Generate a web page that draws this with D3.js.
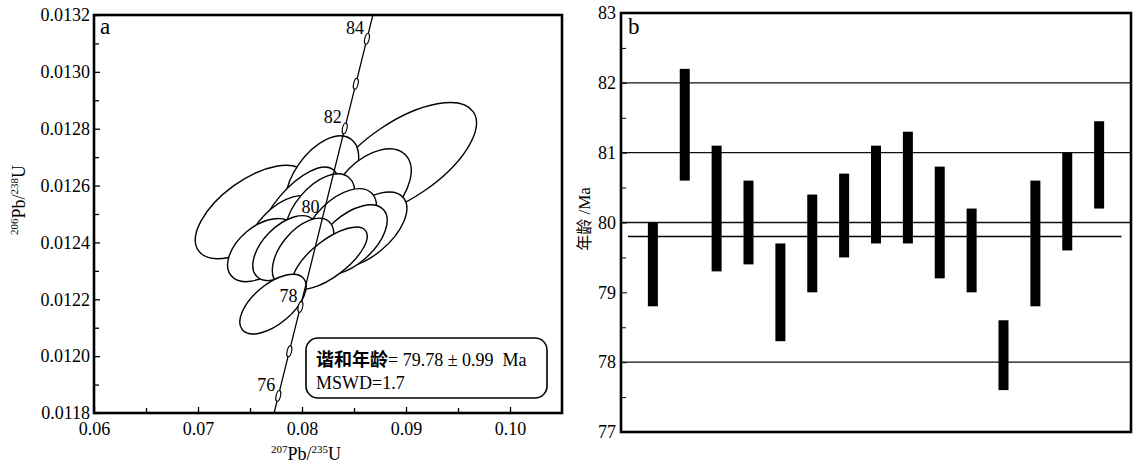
<!DOCTYPE html>
<html>
<head>
<meta charset="utf-8">
<script src="https://cdn.jsdelivr.net/npm/d3@7"></script>
<style>
body { margin: 0; background: #fff; }
svg text { font-family: "Liberation Serif", "Times New Roman", serif; fill: #000; }
svg .cjk { font-family: "Noto Sans CJK SC", sans-serif; }
</style>
</head>
<body>
<svg width="1143" height="464"></svg>
<script>
// Panel a: concordia curve (age in Ma, 207Pb/235U, 206Pb/238U)
var concAge = [75, 76, 77, 78, 79, 80, 81, 82, 83, 84, 85];
var concX = [0.076660, 0.077720, 0.078782, 0.079845, 0.080910, 0.081975, 0.083041, 0.084109, 0.085177, 0.086245, 0.087316];
var concY = [0.011702, 0.011860, 0.012017, 0.012173, 0.012330, 0.012487, 0.012644, 0.012801, 0.012958, 0.013116, 0.013273];
var markerAges = [76, 77, 78, 82, 83, 84];
var labelAges = [76, 78, 80, 82, 84];

// Panel a: zircon spot error ellipses (centre, 2 sigma half extent, correlation)
var spotX   = [0.08962, 0.07519, 0.08192, 0.08654, 0.08606, 0.07962, 0.07817, 0.07615, 0.08173, 0.08365, 0.07837, 0.08462, 0.08010, 0.08269, 0.07721];
var spotY   = [0.012690, 0.012507, 0.012620, 0.012584, 0.012444, 0.012507, 0.012437, 0.012373, 0.012507, 0.012461, 0.012380, 0.012409, 0.012366, 0.012345, 0.012183];
var spotSx  = [0.00715, 0.00544, 0.00353, 0.00396, 0.00402, 0.00383, 0.00350, 0.00330, 0.00334, 0.00350, 0.00310, 0.00357, 0.00295, 0.00358, 0.00319];
var spotSy  = [0.000202, 0.000164, 0.000155, 0.000145, 0.000133, 0.000158, 0.000128, 0.000111, 0.000134, 0.000128, 0.000114, 0.000123, 0.000119, 0.000109, 0.000105];
var spotRho = [0.645, 0.60, 0.50, 0.47, 0.57, 0.675, 0.53, 0.47, 0.52, 0.53, 0.535, 0.555, 0.53, 0.71, 0.60];

var xTicksA = [0.06, 0.07, 0.08, 0.09, 0.10];
var xMinorA = [0.065, 0.075, 0.085, 0.095];
var yTicksA = [0.0118, 0.0120, 0.0122, 0.0124, 0.0126, 0.0128, 0.0130, 0.0132];
var yMinorA = [0.0119, 0.0121, 0.0123, 0.0125, 0.0127, 0.0129, 0.0131];

// Panel b: individual ages (error bars) and weighted mean
var barLow  = [78.8, 80.6, 79.3, 79.4, 78.3, 79.0, 79.5, 79.7, 79.7, 79.2, 79.0, 77.6, 78.8, 79.6, 80.2];
var barHigh = [80.0, 82.2, 81.1, 80.6, 79.7, 80.4, 80.7, 81.1, 81.3, 80.8, 80.2, 78.6, 80.6, 81.0, 81.45];
var gridB = [82, 81, 80, 78];
var meanAge = 79.8;
var meanSpan = [0.22, 15.7];
var yTicksB = [77, 78, 79, 80, 81, 82, 83];
var yMinorB = [77.5, 78.5, 79.5, 80.5, 81.5, 82.5];

var svg = d3.select('svg');

// ---------- Panel a ----------
var ax = {left: 94, right: 562, top: 15, bottom: 413};
var xa = d3.scaleLinear().domain([0.06, 0.105]).range([ax.left, ax.right]);
var ya = d3.scaleLinear().domain([0.0118, 0.0132]).range([ax.bottom, ax.top]);

svg.append('clipPath').attr('id', 'clipA')
	.append('rect')
	.attr('x', ax.left).attr('y', ax.top)
	.attr('width', ax.right - ax.left).attr('height', ax.bottom - ax.top);

var plotA = svg.append('g').attr('clip-path', 'url(#clipA)');

function ellipse_px(i)
{
	var cx = xa(spotX[i]), cy = ya(spotY[i]);
	var a = xa(spotX[i] + spotSx[i]) - cx;
	var b = cy - ya(spotY[i] + spotSy[i]);
	var sxx = a * a, syy = b * b, sxy = -spotRho[i] * a * b;
	var m = (sxx + syy) / 2;
	var d = Math.sqrt(Math.pow((sxx - syy) / 2, 2) + sxy * sxy);
	var ang = 0.5 * Math.atan2(2 * sxy, sxx - syy) * 180 / Math.PI;
	return {cx: cx, cy: cy, rx: Math.sqrt(m + d), ry: Math.sqrt(m - d), ang: ang};
}

plotA.selectAll('.spot')
	.data(d3.range(spotX.length).map(ellipse_px))
	.enter().append('ellipse')
	.attr('class', 'spot')
	.attr('transform', d => 'translate(' + d.cx + ',' + d.cy + ') rotate(' + d.ang + ')')
	.attr('rx', d => d.rx)
	.attr('ry', d => d.ry)
	.attr('fill', '#fff')
	.attr('stroke', '#000')
	.attr('stroke-width', 1.4);

// Concordia
var conc = concAge.map((t, i) => ({age: t, x: concX[i], y: concY[i]}));
plotA.append('path')
	.datum(conc)
	.attr('fill', 'none')
	.attr('stroke', '#000')
	.attr('stroke-width', 1.3)
	.attr('d', d3.line().x(d => xa(d.x)).y(d => ya(d.y)));

var lineAngle = Math.atan2(ya(concY[10]) - ya(concY[0]), xa(concX[10]) - xa(concX[0])) * 180 / Math.PI;

plotA.selectAll('.marker')
	.data(conc.filter(d => markerAges.indexOf(d.age) >= 0))
	.enter().append('ellipse')
	.attr('class', 'marker')
	.attr('transform', d => 'translate(' + xa(d.x) + ',' + ya(d.y) + ') rotate(' + lineAngle + ')')
	.attr('rx', 5.5)
	.attr('ry', 2.2)
	.attr('fill', '#fff')
	.attr('stroke', '#000')
	.attr('stroke-width', 1.1);

plotA.selectAll('.agelabel')
	.data(conc.filter(d => labelAges.indexOf(d.age) >= 0))
	.enter().append('text')
	.attr('class', 'agelabel')
	.attr('x', d => xa(d.x) - 3)
	.attr('y', d => ya(d.y) - 5)
	.attr('text-anchor', 'end')
	.style('font-size', '18px')
	.text(d => d.age);

// Legend box
var legend = svg.append('g');
legend.append('rect')
	.attr('x', 306).attr('y', 338)
	.attr('width', 241).attr('height', 60)
	.attr('rx', 12)
	.attr('fill', '#fff')
	.attr('stroke', '#000')
	.attr('stroke-width', 1.6);
var l1 = legend.append('text').attr('x', 316).attr('y', 366).style('font-size', '18px');
l1.append('tspan').attr('class', 'cjk').style('font-weight', 'bold').style('font-size', '18px').text('谐和年龄');
l1.append('tspan').text('= 79.78 ± 0.99\u00a0\u00a0Ma');
legend.append('text').attr('x', 316).attr('y', 389).style('font-size', '18px').text('MSWD=1.7');

// Axes a
svg.append('g')
	.attr('transform', 'translate(0,' + ax.bottom + ')')
	.call(d3.axisBottom(xa).tickValues(xTicksA).tickFormat(d3.format('.2f')).tickSizeInner(-6).tickSizeOuter(0).tickPadding(9))
	.call(g => g.select('.domain').remove())
	.call(g => g.selectAll('text').style('font-size', '18px').attr('font-family', null));
svg.append('g')
	.attr('transform', 'translate(0,' + ax.bottom + ')')
	.call(d3.axisBottom(xa).tickValues(xMinorA).tickFormat('').tickSizeInner(-5).tickSizeOuter(0))
	.call(g => g.select('.domain').remove());
svg.append('g')
	.attr('transform', 'translate(' + ax.left + ',0)')
	.call(d3.axisLeft(ya).tickValues(yTicksA).tickFormat(d3.format('.4f')).tickSizeInner(-6).tickSizeOuter(0).tickPadding(4))
	.call(g => g.select('.domain').remove())
	.call(g => g.selectAll('text').style('font-size', '18px').attr('font-family', null));
svg.append('g')
	.attr('transform', 'translate(' + ax.left + ',0)')
	.call(d3.axisLeft(ya).tickValues(yMinorA).tickFormat('').tickSizeInner(-5).tickSizeOuter(0))
	.call(g => g.select('.domain').remove());
svg.selectAll('.tick line').attr('stroke-width', 1.3);

svg.append('rect')
	.attr('x', ax.left).attr('y', ax.top)
	.attr('width', ax.right - ax.left).attr('height', ax.bottom - ax.top)
	.attr('fill', 'none').attr('stroke', '#000').attr('stroke-width', 2.6);

svg.append('text').attr('x', ax.left + 6).attr('y', ax.top + 19).style('font-size', '23px').text('a');

var xt = svg.append('text').attr('x', 306).attr('y', 460).attr('text-anchor', 'middle').style('font-size', '18px');
xt.append('tspan').style('font-size', '11px').attr('dy', -7).text('207');
xt.append('tspan').attr('dy', 7).text('Pb/');
xt.append('tspan').style('font-size', '11px').attr('dy', -7).text('235');
xt.append('tspan').attr('dy', 7).text('U');

var yt = svg.append('text').attr('transform', 'translate(25,200) rotate(-90)').attr('text-anchor', 'middle').style('font-size', '18px');
yt.append('tspan').style('font-size', '11px').attr('dy', -7).text('206');
yt.append('tspan').attr('dy', 7).text('Pb/');
yt.append('tspan').style('font-size', '11px').attr('dy', -7).text('238');
yt.append('tspan').attr('dy', 7).text('U');

// ---------- Panel b ----------
var bx = {left: 621, right: 1131, top: 13, bottom: 432};
var xb = d3.scaleLinear().domain([0, 16]).range([bx.left, bx.right]);
var yb = d3.scaleLinear().domain([77, 83]).range([bx.bottom, bx.top]);

svg.selectAll('.grid')
	.data(gridB)
	.enter().append('line')
	.attr('class', 'grid')
	.attr('x1', bx.left).attr('x2', bx.right)
	.attr('y1', d => yb(d)).attr('y2', d => yb(d))
	.attr('stroke', '#111')
	.attr('stroke-width', 1.3);

svg.append('line')
	.attr('x1', xb(meanSpan[0])).attr('x2', xb(meanSpan[1]))
	.attr('y1', yb(meanAge)).attr('y2', yb(meanAge))
	.attr('stroke', '#000')
	.attr('stroke-width', 1.6);

var bars = barLow.map((lo, i) => ({i: i + 1, lo: lo, hi: barHigh[i]}));
svg.selectAll('.bar')
	.data(bars)
	.enter().append('rect')
	.attr('class', 'bar')
	.attr('x', d => xb(d.i) - 5)
	.attr('width', 10)
	.attr('y', d => yb(d.hi))
	.attr('height', d => yb(d.lo) - yb(d.hi))
	.attr('fill', '#000');

svg.append('g')
	.attr('transform', 'translate(' + bx.left + ',0)')
	.call(d3.axisLeft(yb).tickValues(yTicksB).tickFormat(d3.format('d')).tickSizeInner(-6).tickSizeOuter(0).tickPadding(5))
	.call(g => g.select('.domain').remove())
	.call(g => g.selectAll('text').style('font-size', '18px').attr('font-family', null));
svg.append('g')
	.attr('transform', 'translate(' + bx.left + ',0)')
	.call(d3.axisLeft(yb).tickValues(yMinorB).tickFormat('').tickSizeInner(-5).tickSizeOuter(0))
	.call(g => g.select('.domain').remove());

svg.append('rect')
	.attr('x', bx.left).attr('y', bx.top)
	.attr('width', bx.right - bx.left).attr('height', bx.bottom - bx.top)
	.attr('fill', 'none').attr('stroke', '#000').attr('stroke-width', 2.6);

svg.append('text').attr('x', bx.left + 7).attr('y', bx.top + 21).style('font-size', '23px').text('b');

var ybt = svg.append('text').attr('transform', 'translate(590,219) rotate(-90)').attr('text-anchor', 'middle').style('font-size', '17px');
ybt.append('tspan').attr('class', 'cjk').style('font-size', '16px').text('年龄');
ybt.append('tspan').text(' /Ma');
</script>
</body>
</html>
